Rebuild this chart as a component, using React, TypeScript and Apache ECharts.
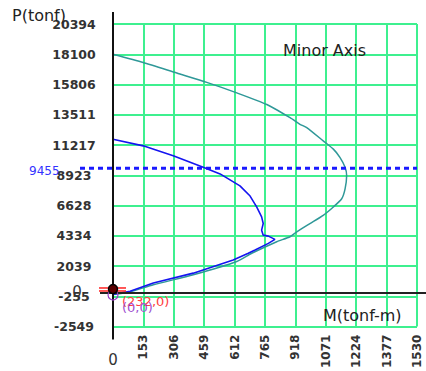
import React, { useEffect, useRef } from "react";
import * as echarts from "echarts";

// Axis ticks
const mTicks = [0, 153, 306, 459, 612, 765, 918, 1071, 1224, 1377, 1530];
const pTickLabels = ["-2549", "-255", "2039", "4334", "6628", "8923", "11217", "13511", "15806", "18100", "20394"];
const pMin = -2549;
const pMax = 20394;

// Outer (teal) interaction curve
const tealM = [0, 152, 321, 472, 623, 774, 891, 941, 975, 1058, 1109, 1142, 1168, 1176, 1168, 1151, 1109, 1058, 991, 925, 891, 824, 698, 623, 404, 203, 86, 0];
const tealP = [18100, 17474, 16675, 15968, 15171, 14291, 13290, 12787, 12539, 11531, 10907, 10283, 9530, 8899, 7898, 7146, 6522, 5890, 5265, 4641, 4265, 3889, 3009, 2384, 1377, 624, 80, -120];

// Inner (blue) curve
const blueM = [0, 152, 303, 454, 539, 639, 690, 723, 748, 756, 748, 756, 782, 815, 782, 715, 681, 605, 404, 203, 86, 0];
const blueP = [11659, 11155, 10403, 9530, 9026, 8124, 7350, 6522, 5769, 5265, 4761, 4385, 4310, 4062, 3761, 3257, 3009, 2505, 1504, 752, 128, -100];

// Reference load line
const refLoad = [9455];
const refLoadLabel = "9455";

// Origin markers
const originLabels = ["(232,0)", "(0,0)"];

const FONT = '"DejaVu Sans", sans-serif';
const GREEN = "#3ef08f";

export default function App() {
  const ref = useRef<HTMLDivElement>(null);
  useEffect(() => {
    if (!ref.current) return;
    const chart = echarts.init(ref.current, null, { renderer: "svg" });
    const teal = tealM.map((m, i) => [m, tealP[i]]);
    const blue = blueM.map((m, i) => [m, blueP[i]]);
    chart.setOption({
      animation: false,
      backgroundColor: "#ffffff",
      grid: { left: 113, top: 24, right: 9, bottom: 42, containLabel: false },
      xAxis: {
        type: "value",
        min: mTicks[0],
        max: mTicks[mTicks.length - 1],
        interval: mTicks[1] - mTicks[0],
        axisLine: { show: false },
        axisTick: { show: false },
        splitLine: { show: true, lineStyle: { color: GREEN, width: 2 } },
        axisLabel: {
          rotate: 90,
          margin: 8,
          color: "#333",
          fontFamily: FONT,
          fontWeight: "bold",
          fontSize: 12,
          formatter: (v: number) => (v === 0 ? "" : String(v)),
        },
      },
      yAxis: [
        { type: "value", min: pMin, max: pMax, show: false },
        {
          type: "value",
          min: 0,
          max: pTickLabels.length - 1,
          interval: 1,
          position: "left",
          axisLine: { show: false },
          axisTick: { show: false },
          splitLine: { show: true, lineStyle: { color: GREEN, width: 2 } },
          axisLabel: {
            margin: 39,
            align: "center",
            color: "#333",
            fontFamily: FONT,
            fontWeight: "bold",
            fontSize: 12.5,
            formatter: (v: number) => pTickLabels[Math.round(v)] ?? "",
          },
        },
      ],
      series: [
        {
          type: "line",
          xAxisIndex: 0,
          yAxisIndex: 0,
          data: teal,
          symbol: "none",
          smooth: 0.2,
          lineStyle: { color: "#2f9898", width: 1.5 },
          z: 3,
        },
        {
          type: "line",
          xAxisIndex: 0,
          yAxisIndex: 0,
          data: blue,
          symbol: "none",
          lineStyle: { color: "#1414f0", width: 1.6 },
          z: 4,
        },
        {
          type: "custom",
          xAxisIndex: 0,
          yAxisIndex: 0,
          data: [[0, 0]],
          z: 5,
          silent: true,
          renderItem: (params: any, api: any) => {
            const o = api.coord([api.value(0), api.value(1)]);
            const cs = params.coordSys;
            return {
              type: "group",
              children: [
                { type: "line", shape: { x1: o[0] - 13, y1: o[1], x2: api.getWidth(), y2: o[1] }, style: { stroke: "#222", lineWidth: 2 } },
                { type: "line", shape: { x1: o[0], y1: cs.y - 12, x2: o[0], y2: cs.y + cs.height + 13 }, style: { stroke: "#111", lineWidth: 2 } },
              ],
            };
          },
        },
        {
          type: "custom",
          xAxisIndex: 0,
          yAxisIndex: 0,
          data: refLoad.map((p) => [0, p]),
          z: 6,
          silent: true,
          renderItem: (params: any, api: any) => {
            const p = api.coord([api.value(0), api.value(1)]);
            const cs = params.coordSys;
            return {
              type: "group",
              children: [
                { type: "line", shape: { x1: p[0] - 33, y1: p[1], x2: cs.x + cs.width, y2: p[1] }, style: { stroke: "#1a1aff", lineWidth: 3, lineDash: [5, 4] } },
                { type: "text", style: { text: refLoadLabel, x: p[0] - 84, y: p[1] + 3, fill: "#3333ff", font: `12px ${FONT}`, verticalAlign: "middle" } },
              ],
            };
          },
        },
        {
          type: "custom",
          xAxisIndex: 0,
          yAxisIndex: 0,
          data: [[0, 0]],
          z: 7,
          silent: true,
          renderItem: (params: any, api: any) => {
            const o = api.coord([api.value(0), api.value(1)]);
            return {
              type: "group",
              children: [
                { type: "circle", shape: { cx: o[0], cy: o[1] + 2, r: 5 }, style: { fill: "none", stroke: "#9a3fc8", lineWidth: 1.2 } },
                { type: "line", shape: { x1: o[0] - 14, y1: o[1] - 5, x2: o[0] + 13, y2: o[1] - 5 }, style: { stroke: "#ff2020", lineWidth: 1.5 } },
                { type: "line", shape: { x1: o[0] - 14, y1: o[1] - 2, x2: o[0] + 13, y2: o[1] - 2 }, style: { stroke: "#ff2020", lineWidth: 1.5 } },
                { type: "circle", shape: { cx: o[0], cy: o[1] - 4, r: 4.5 }, style: { fill: "#5a0000", stroke: "#000", lineWidth: 1.5 } },
                { type: "text", style: { text: originLabels[0], x: o[0] + 9, y: o[1] + 9, fill: "#ff4040", font: `13px ${FONT}`, verticalAlign: "middle" } },
                { type: "text", style: { text: originLabels[1], x: o[0] + 9, y: o[1] + 15, fill: "#a050d0", font: `13px ${FONT}`, verticalAlign: "middle" } },
              ],
            };
          },
        },
      ],
      graphic: [
        { type: "text", z: 100, x: 12, y: 15, style: { text: "P(tonf)", fill: "#222", font: `16px ${FONT}`, verticalAlign: "middle" } },
        { type: "text", z: 100, x: 283, y: 50, style: { text: "Minor Axis", fill: "#222", font: `16px ${FONT}`, verticalAlign: "middle" } },
        { type: "text", z: 100, x: 323, y: 315, style: { text: "M(tonf-m)", fill: "#222", font: `16px ${FONT}`, verticalAlign: "middle" } },
        { type: "text", z: 100, x: 113, y: 360, style: { text: "0", fill: "#333", font: `15px ${FONT}`, align: "center", verticalAlign: "middle" } },
        { type: "text", z: 100, x: 77, y: 292, style: { text: "0", fill: "#333", font: `15px ${FONT}`, align: "center", verticalAlign: "middle" } },
      ],
    });
    return () => chart.dispose();
  }, []);
  return (
    <div
      ref={ref}
      style={{ position: "fixed", left: 0, top: 0, width: 426, height: 371, background: "#fff" }}
    />
  );
}
